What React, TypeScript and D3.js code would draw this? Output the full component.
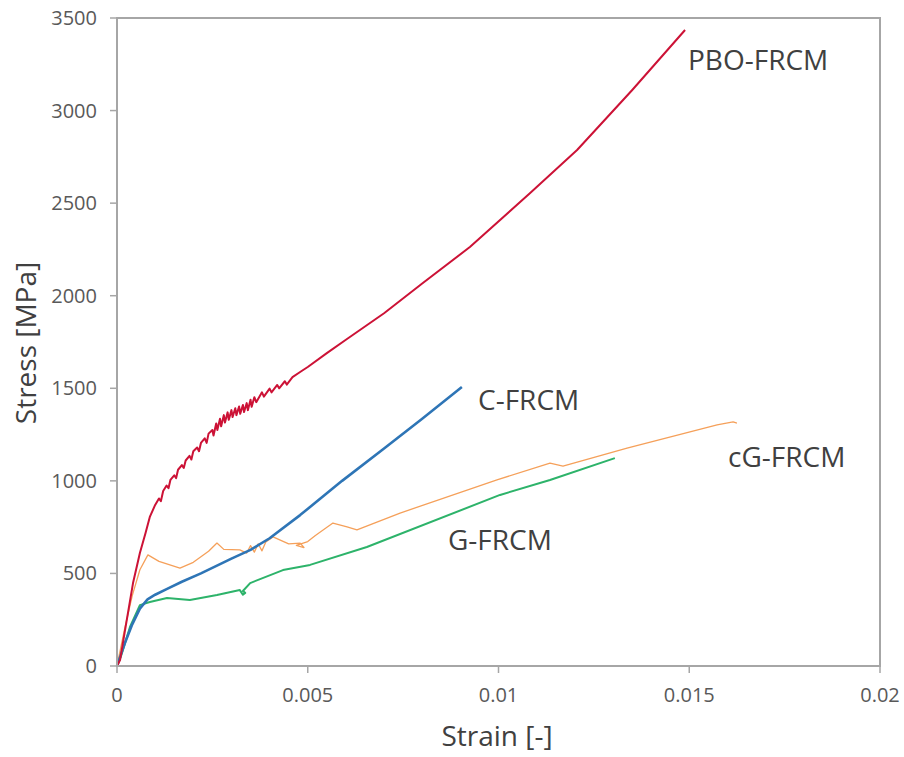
import React from "react";
import * as d3 from "d3";

const xTicks = [0, 0.005, 0.01, 0.015, 0.02];
const xTickLabels = ["0", "0.005", "0.01", "0.015", "0.02"];
const yTicks = [0, 500, 1000, 1500, 2000, 2500, 3000, 3500];

// [strain, stress MPa]
const pboData: [number, number][] = [
  [0, 0], [0.00008, 32], [0.0002, 180], [0.00042, 448], [0.0006, 610], [0.00075, 720],
  [0.00086, 805], [0.001, 870], [0.0011, 905], [0.00115, 890], [0.00121, 945], [0.0013, 975], [0.00135, 960],
  [0.0014, 1005], [0.0015, 1030], [0.00155, 1015], [0.0016, 1060], [0.0017, 1085], [0.00175, 1070],
  [0.0018, 1110], [0.0019, 1135], [0.00195, 1115], [0.002, 1160], [0.0021, 1180], [0.00215, 1160],
  [0.0022, 1205], [0.0023, 1230], [0.00235, 1205], [0.0024, 1255], [0.0025, 1275], [0.00253, 1245],
  [0.0026, 1310], [0.00263, 1275], [0.0027, 1335], [0.00273, 1295], [0.0028, 1355], [0.00283, 1315],
  [0.0029, 1370], [0.00293, 1330], [0.003, 1382], [0.00303, 1345], [0.0031, 1392], [0.00313, 1355],
  [0.0032, 1402], [0.00323, 1362], [0.0033, 1410], [0.00333, 1372], [0.0034, 1420], [0.00343, 1382],
  [0.0035, 1438], [0.00353, 1400], [0.0036, 1452], [0.00365, 1425], [0.0038, 1478], [0.00385, 1455],
  [0.004, 1498], [0.00405, 1478], [0.0042, 1518], [0.00425, 1500], [0.0044, 1538], [0.00445, 1520],
  [0.0046, 1560], [0.0048, 1588], [0.005, 1615], [0.0055, 1690], [0.006, 1762], [0.007, 1905],
  [0.008, 2066], [0.00925, 2263], [0.01083, 2555], [0.01206, 2787], [0.0135, 3110], [0.01489, 3435],
];

const cData: [number, number][] = [
  [0, 0], [0.0001, 60], [0.0002, 120], [0.0004, 225], [0.0006, 310], [0.0008, 360], [0.001, 385],
  [0.0013, 415], [0.0017, 455], [0.0022, 500], [0.003, 580], [0.0035, 627], [0.004, 690],
  [0.0048, 815], [0.0059, 1000], [0.007, 1175], [0.008, 1335], [0.00904, 1507],
];

const cgData: [number, number][] = [
  [0, 0], [0.0002, 200], [0.0004, 380], [0.0006, 520], [0.00081, 600], [0.0011, 565], [0.00165, 529],
  [0.002, 560], [0.0024, 620], [0.00262, 664], [0.0028, 630], [0.00322, 627], [0.0034, 610],
  [0.0035, 650], [0.0036, 615], [0.0037, 660], [0.0038, 622], [0.0039, 670], [0.00409, 697],
  [0.0045, 660], [0.0048, 664], [0.0049, 640], [0.0047, 652], [0.005, 672], [0.0052, 705],
  [0.00566, 772], [0.00603, 751], [0.00629, 735], [0.00742, 826], [0.00996, 1005], [0.01135, 1096],
  [0.01169, 1080], [0.01337, 1177], [0.01573, 1302], [0.01615, 1318], [0.01625, 1312],
];

const gData: [number, number][] = [
  [0, 0], [0.0001, 50], [0.00034, 211], [0.0006, 329], [0.00086, 346], [0.00131, 367], [0.00191, 356],
  [0.00262, 383], [0.00322, 410], [0.0033, 385], [0.00336, 395], [0.0033, 405], [0.00349, 448],
  [0.00435, 518], [0.00506, 546], [0.00655, 643], [0.01004, 924], [0.01135, 1005], [0.01305, 1123],
];

const series = [
  { name: "PBO-FRCM", data: pboData, color: "#cc1236", width: 2, lx: 688, ly: 70 },
  { name: "C-FRCM", data: cData, color: "#2e75b6", width: 2.6, lx: 478, ly: 410 },
  { name: "cG-FRCM", data: cgData, color: "#f5a05a", width: 1.3, lx: 728, ly: 467 },
  { name: "G-FRCM", data: gData, color: "#2db36a", width: 2, lx: 448, ly: 550 },
];

export default function App() {
  const W = 904, H = 757;
  const x = d3.scaleLinear().domain([0, 0.02]).range([117, 880]);
  const y = d3.scaleLinear().domain([0, 3500]).range([666, 18]);
  const line = d3.line<[number, number]>().x((d) => x(d[0])).y((d) => y(d[1]));
  const font = "'Open Sans', 'Noto Sans', sans-serif";
  const drawOrder = [series[3], series[2], series[1], series[0]];
  return (
    <svg width={W} height={H} style={{ position: "absolute", left: 0, top: 0, background: "#fff" }}>
      <rect x={0} y={0} width={W} height={H} fill="#fff" />
      {drawOrder.map((s) => (
        <path key={s.name} d={line(s.data) || ""} fill="none" stroke={s.color} strokeWidth={s.width} strokeLinejoin="round" />
      ))}
      <rect x={x(0)} y={y(3500)} width={x(0.02) - x(0)} height={y(0) - y(3500)} fill="none" stroke="#a6a6a6" strokeWidth={2} />
      {yTicks.map((t) => (
        <g key={t}>
          <line x1={x(0) - 7} x2={x(0)} y1={y(t)} y2={y(t)} stroke="#a6a6a6" strokeWidth={1.5} />
          <text x={97} y={y(t)} dy="0.35em" textAnchor="end" fontFamily={font} fontSize={20} fill="#595959">{t}</text>
        </g>
      ))}
      {xTicks.map((t, i) => (
        <g key={t}>
          <line x1={x(t)} x2={x(t)} y1={y(0)} y2={y(0) + 7} stroke="#a6a6a6" strokeWidth={1.5} />
          <text x={x(t)} y={702} textAnchor="middle" fontFamily={font} fontSize={20} fill="#595959">{xTickLabels[i]}</text>
        </g>
      ))}
      <text x={497} y={746} textAnchor="middle" fontFamily={font} fontSize={28} fill="#404040">Strain [-]</text>
      <text transform="translate(36,343) rotate(-90)" textAnchor="middle" fontFamily={font} fontSize={28} fill="#404040">Stress [MPa]</text>
      {series.map((s) => (
        <text key={s.name + "l"} x={s.lx} y={s.ly} fontFamily={font} fontSize={28} fill="#404040">{s.name}</text>
      ))}
    </svg>
  );
}
